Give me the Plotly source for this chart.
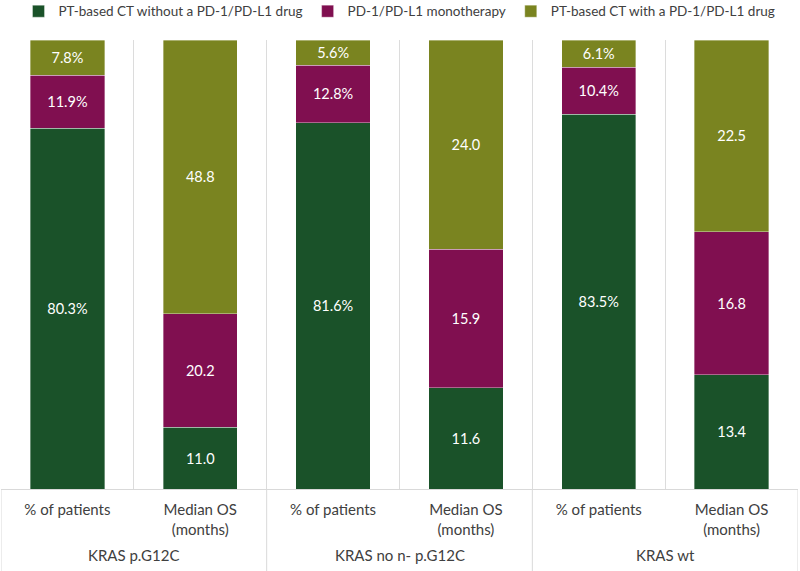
import plotly.graph_objects as go

group_names = ["KRAS p.G12C", "KRAS no n- p.G12C", "KRAS wt"]
measures = ["% of patients", "Median OS<br>(months)"] * 3

ct_without = [80.3, 11.0, 81.6, 11.6, 83.5, 13.4]
mono = [11.9, 20.2, 12.8, 15.9, 10.4, 16.8]
ct_with = [7.8, 48.8, 5.6, 24.0, 6.1, 22.5]

series = [
    ("PT-based CT without a PD-1/PD-L1 drug", ct_without, "#1a5229"),
    ("PD-1/PD-L1 monotherapy", mono, "#800f50"),
    ("PT-based CT with a PD-1/PD-L1 drug", ct_with, "#7a8420"),
]

pos = list(range(len(measures)))


def fmt(vals):
    out = []
    for i, v in enumerate(vals):
        if i % 2 == 0:
            out.append(f"{v:.1f}%")
        else:
            out.append(f"{v:.1f}")
    return out


fig = go.Figure()
for name, vals, col in series:
    fig.add_trace(go.Bar(
        x=pos, y=vals, name=name, width=0.56,
        marker=dict(color=col, line=dict(color="rgba(255,255,255,0.6)", width=0.6)),
        text=fmt(vals), textposition="inside", insidetextanchor="middle",
        textfont=dict(color="white", size=14.5), textangle=0,
        hoverinfo="skip",
    ))

# group labels + the long separators under the axis
axis_h = 449
for g, name in enumerate(group_names):
    fig.add_annotation(x=2 * g + 0.5, xref="x", y=-66 / axis_h, yref="paper",
                       text=name, showarrow=False, yanchor="middle", borderpad=0,
                       font=dict(size=15, color="#404040"))
for xb in [-0.5, 1.5, 3.5, 5.5]:
    fig.add_shape(type="line", xref="x", yref="paper", x0=xb, x1=xb, y0=0, y1=-82 / axis_h,
                  line=dict(color="#d9d9d9", width=1))

fig.update_layout(
    barmode="stack", barnorm="percent",
    width=800, height=571,
    margin=dict(l=1, r=2, t=40, b=82),
    plot_bgcolor="white", paper_bgcolor="white",
    font=dict(family="Lato", size=15, color="#404040"),
    legend=dict(orientation="h", x=0.5, xanchor="center", y=0.98, yref="container",
                yanchor="middle", font=dict(size=13.5), traceorder="normal",
                itemwidth=30),
    uniformtext=dict(minsize=12, mode="show"),
)
fig.update_xaxes(
    range=[-0.5, 5.5], tickmode="array", tickvals=pos, ticktext=measures,
    showgrid=False, zeroline=False,
    minor=dict(tick0=-0.5, dtick=1, showgrid=True, gridcolor="#dcdcdc", gridwidth=1),
    showline=True, linecolor="#d9d9d9", ticks="", tickfont=dict(size=15),
    ticklabelstandoff=7,
)
fig.update_yaxes(range=[0, 100], visible=False)

fig.write_html("out.html", config={"displayModeBar": False},
               post_script="document.body.style.margin='0';")
